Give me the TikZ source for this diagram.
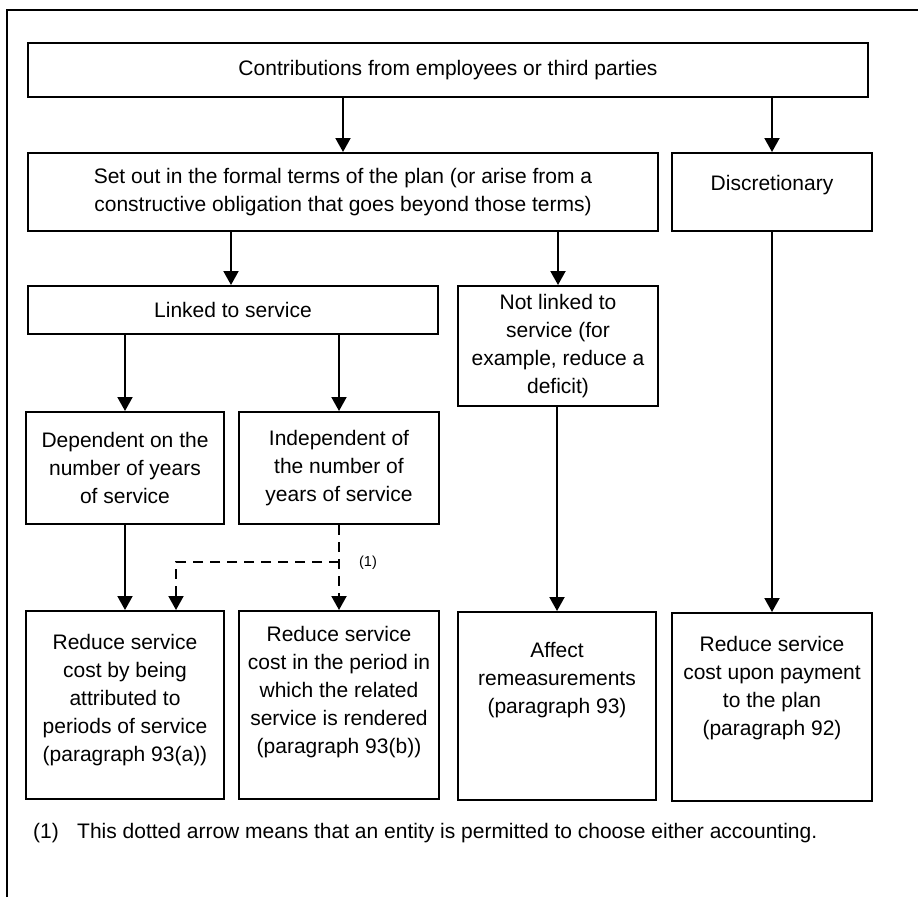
\documentclass[tikz,border=0pt]{standalone}
\usepackage{fontspec}
\setmainfont{Liberation Sans}
\usetikzlibrary{arrows.meta,calc}
\begin{document}
\begin{tikzpicture}[x=1pt,y=-1pt,
  lw/.style={line width=2pt},
  box/.style={draw, lw, rectangle, inner sep=0pt, align=center, font=\fontsize{21}{28}\selectfont},
  txt/.style={align=center, inner sep=0pt, font=\fontsize{21}{28}\selectfont},
  arr/.style={lw, -{Triangle[width=15pt,length=14pt]}},
  darr/.style={arr, dash pattern=on 10pt off 7pt},
]
\useasboundingbox (0,0) rectangle (918,897);
\draw[lw] (7,897) -- (7,10) -- (918,10);

% row 1
\node[box, minimum width=840pt, minimum height=54pt] (top) at (448,70)
  {Contributions from employees or third parties};
% row 2
\node[box, minimum width=630pt, minimum height=78pt] (setout) at (343,192)
  {Set out in the formal terms of the plan (or arise from a\\constructive obligation that goes beyond those terms)};
\node[box, minimum width=200pt, minimum height=78pt] (disc) at (772,192) {};
\node[txt] (disct) at (772,185) {Discretionary};
% row 3
\node[box, minimum width=410pt, minimum height=48pt] (linked) at (233,310) {Linked to service};
\node[box, minimum width=200pt, minimum height=120pt] (notlinked) at (558,346)
  {Not linked to\\service (for\\example, reduce a\\deficit)};
% row 4
\node[box, minimum width=198pt, minimum height=112pt] (dep) at (125,468)
  {Dependent on the\\number of years\\of service};
\node[box, minimum width=200pt, minimum height=112pt] (ind) at (339,468)
  {Independent of\\the number of\\years of service};
% row 5
\node[box, minimum width=198pt, minimum height=188pt] (b1) at (125,705) {};
\node[txt] (b1t) at (125,700) {Reduce service\\cost by being\\attributed to\\periods of service\\(paragraph 93(a))};
\node[box, minimum width=200pt, minimum height=188pt] (b2) at (339,705) {};
\node[txt] (b2t) at (339,692) {Reduce service\\cost in the period in\\which the related\\service is rendered\\(paragraph 93(b))};
\node[box, minimum width=198pt, minimum height=188pt] (b3) at (557,706) {};
\node[txt] (b3t) at (557,680) {Affect\\remeasurements\\(paragraph 93)};
\node[box, minimum width=200pt, minimum height=188pt] (b4) at (772,707) {};
\node[txt] (b4t) at (772,688) {Reduce service\\cost upon payment\\to the plan\\(paragraph 92)};

% arrows
\draw[arr] (top.south -| setout.north) -- (setout.north);
\draw[arr] (top.south -| disc.north) -- (disc.north);
\draw[arr] ([xshift=-2pt]setout.south -| linked.north) -- ([xshift=-2pt]linked.north);
\draw[arr] (setout.south -| notlinked.north) -- (notlinked.north);
\draw[arr] (linked.south -| dep.north) -- (dep.north);
\draw[arr] (linked.south -| ind.north) -- (ind.north);
\draw[arr] (dep.south) -- (b1.north);
\draw[arr] (notlinked.south -| b3.north) -- (b3.north);
\draw[arr] (disc.south -| b4.north) -- (b4.north);

% dashed choice
\coordinate (j) at (ind.south |- 0,562);
\draw[darr] (ind.south) -- (b2.north);
\draw[darr] (j) -| ($(b1.north)+(51,0)$);
\node[inner sep=0pt, font=\fontsize{14.5}{17}\selectfont] (one) at (368,563) {(1)};

% footnote
\node[anchor=west, inner sep=0pt, font=\fontsize{21}{28}\selectfont] (fn) at (33,833)
  {\makebox[44pt][l]{(1)}This dotted arrow means that an entity is permitted to choose either accounting.};
\end{tikzpicture}
\end{document}
